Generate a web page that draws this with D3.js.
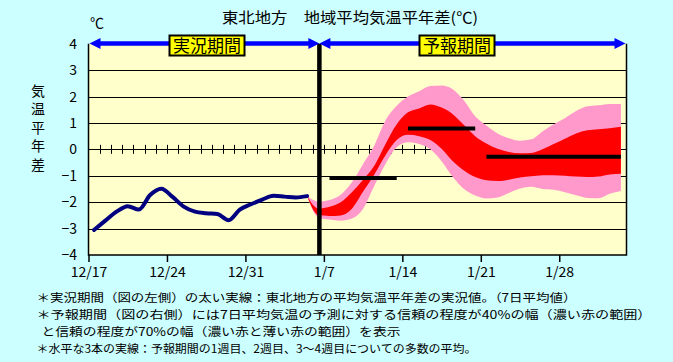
<!DOCTYPE html>
<html><head><meta charset="utf-8">
<script src="https://cdn.jsdelivr.net/npm/d3@7"></script>
<style>
html,body{margin:0;padding:0;background:#CCFFFF;}
svg{display:block;}
text{font-family:"Noto Sans CJK JP","Noto Sans",sans-serif;fill:#000;}
</style></head>
<body><svg id="c" width="673" height="362"></svg>
<script>
// ---- data ----
const title = "東北地方　地域平均気温平年差(℃)";
const unitLabel = "℃";
const yAxisTitle = "気温平年差";
const yTicks = [-4,-3,-2,-1,0,1,2,3,4];
const xTickDays = [0,7,14,21,28,35,42];
const xTickLabels = ["12/17","12/24","12/31","1/7","1/14","1/21","1/28"];
const totalDays = 48;
const periodLabels = ["実況期間","予報期間"];
const forecastBoundary = 20.6;
// observed 7-day mean anomaly, daily from 12/17 (day 0)
const observedStart = 0;
const observed = [-3.05,-2.7,-2.36,-2.15,-2.28,-1.73,-1.49,-1.8,-2.17,-2.36,-2.42,-2.45,-2.68,-2.28,-2.08,-1.9,-1.76,-1.79,-1.82,-1.77];
// forecast bands, daily from day 19
const forecastStart = 19;
const p70Upper = [-1.77,-1.98,-1.92,-1.72,-1.25,-0.55,0.15,1.1,1.65,2.0,2.2,2.4,2.42,2.28,1.85,1.25,0.9,0.6,0.42,0.33,0.38,0.68,0.95,1.18,1.45,1.63,1.67,1.72,1.72];
const r40Upper = [-1.77,-2.24,-2.17,-2.0,-1.62,-1.15,-0.62,0.2,0.95,1.4,1.55,1.7,1.58,1.33,0.92,0.5,0.22,0.02,-0.1,-0.15,-0.14,0.0,0.2,0.4,0.6,0.72,0.76,0.8,0.86];
const r40Lower = [-1.77,-2.49,-2.52,-2.5,-2.25,-1.6,-0.95,-0.22,0.35,0.55,0.5,0.35,0.02,-0.45,-0.8,-1.05,-1.17,-1.2,-1.15,-1.07,-1.02,-0.98,-0.98,-1.0,-1.03,-1.05,-1.03,-0.95,-0.92];
const p70Lower = [-1.77,-2.58,-2.66,-2.7,-2.62,-2.25,-1.38,-0.55,0.08,0.27,0.2,0.0,-0.45,-1.05,-1.5,-1.75,-1.86,-1.82,-1.65,-1.48,-1.42,-1.5,-1.53,-1.62,-1.74,-1.84,-1.85,-1.68,-1.58];
// ensemble mean: week1, week2, weeks3-4
const meanStartDay = [21,28,35];
const meanEndDay = [27,34,47];
const meanValues = [-1.08,0.79,-0.28];
const notes = [
 "＊実況期間（図の左側）の太い実線：東北地方の平均気温平年差の実況値。（7日平均値）",
 "＊予報期間（図の右側）には7日平均気温の予測に対する信頼の程度が40%の幅（濃い赤の範囲）",
 "と信頼の程度が70%の幅（濃い赤と薄い赤の範囲）を表示",
 "＊水平な3本の実線：予報期間の1週目、2週目、3～4週目についての多数の平均。"
];

// ---- layout ----
const svg = d3.select("#c");
const L=88.5, R=626.5, T=43.7, B=255;
const x = d3.scaleLinear().domain([0,totalDays]).range([L,R]);
const y = d3.scaleLinear().domain([-4,4]).range([B,T]);
const cx = d => x(d+0.5);

svg.append("rect").attr("width",673).attr("height",362).attr("fill","#CCFFFF");
svg.append("rect").attr("x",L).attr("y",T).attr("width",R-L).attr("height",B-T).attr("fill","#FFFFCC");

// grid lines
svg.append("g").selectAll("line").data(yTicks.filter(v=>v>-4&&v<4)).join("line")
  .attr("x1",L).attr("x2",R).attr("y1",d=>Math.round(y(d))+0.5).attr("y2",d=>Math.round(y(d))+0.5)
  .attr("stroke","#000").attr("stroke-width",1);
// daily ticks on zero line
svg.append("g").selectAll("line").data(d3.range(1,totalDays)).join("line")
  .attr("x1",d=>Math.round(x(d))+0.5).attr("x2",d=>Math.round(x(d))+0.5)
  .attr("y1",y(0)-4.5).attr("y2",y(0)+4.5).attr("stroke","#000");

// bands
const fc = p70Upper.map((v,i)=>({d:forecastStart+i,p70u:v,r40u:r40Upper[i],r40l:r40Lower[i],p70l:p70Lower[i]}));
const curve = d3.curveMonotoneX;
svg.append("path").datum(fc).attr("fill","#FF99CC")
  .attr("d",d3.area().x(d=>cx(d.d)).y0(d=>y(d.p70l)).y1(d=>y(d.p70u)).curve(curve));
svg.append("path").datum(fc).attr("fill","#FF0000")
  .attr("d",d3.area().x(d=>cx(d.d)).y0(d=>y(d.r40l)).y1(d=>y(d.r40u)).curve(curve));

// observed
const obs = observed.map((v,i)=>({d:observedStart+i,v}));
svg.append("path").datum(obs).attr("fill","none").attr("stroke","#000080").attr("stroke-width",4)
  .attr("stroke-linejoin","round").attr("stroke-linecap","round")
  .attr("d",d3.line().x(d=>cx(d.d)).y(d=>y(d.v)).curve(curve));

// ensemble means
svg.append("g").selectAll("line").data(meanValues).join("line")
  .attr("x1",(d,i)=>cx(meanStartDay[i])).attr("x2",(d,i)=>cx(meanEndDay[i]))
  .attr("y1",d=>y(d)).attr("y2",d=>y(d)).attr("stroke","#000").attr("stroke-width",4);

// divider
svg.append("line").attr("x1",x(forecastBoundary)).attr("x2",x(forecastBoundary))
  .attr("y1",T).attr("y2",B).attr("stroke","#000").attr("stroke-width",4.5);

// frame
svg.append("path").attr("d",`M${L},${T}V${B}H${R}V${T}`).attr("fill","none").attr("stroke","#000").attr("stroke-width",1.5);

// x axis
const xa = svg.append("g").attr("transform",`translate(0,${B})`)
  .call(d3.axisBottom(x).tickValues(xTickDays).tickFormat((d,i)=>xTickLabels[i]).tickSize(7).tickPadding(5));
xa.select(".domain").remove();
xa.selectAll("line").attr("stroke","#000").attr("stroke-width",1.5);
xa.selectAll("text").attr("font-size",14).attr("font-family","'Noto Sans CJK JP',sans-serif").attr("fill","#000");

// y labels
svg.append("g").selectAll("text").data(yTicks).join("text")
  .attr("x",77).attr("y",d=>y(d)).attr("dy","0.36em").attr("text-anchor","end")
  .attr("font-size",14).text(d=>d<0?"−"+Math.abs(d):d);

// y title (vertical)
svg.append("text").attr("x",38).attr("y",129.5).attr("text-anchor","middle")
  .attr("writing-mode","vertical-rl").style("letter-spacing","4.5px")
  .attr("font-size",14).text(yAxisTitle);

svg.append("text").attr("x",97).attr("y",28).attr("text-anchor","middle").attr("font-size",14).text(unitLabel);
svg.append("text").attr("x",222).attr("y",23).attr("font-size",15)
  .attr("textLength",256).attr("lengthAdjust","spacingAndGlyphs").text(title);

// period arrows
const arrowY = 43.5, ah = 11, aw = 5.5;
const segs = [[0,forecastBoundary],[forecastBoundary,totalDays]];
const ag = svg.append("g");
segs.forEach(s=>{
  const a=x(s[0])+ (s[0]===0?1:0), b=x(s[1]) - (s[1]===totalDays?1:0);
  ag.append("line").attr("x1",a+ah-1).attr("x2",b-ah+1).attr("y1",arrowY).attr("y2",arrowY)
    .attr("stroke","#0000FF").attr("stroke-width",4.5);
  ag.append("path").attr("d",`M${a},${arrowY}L${a+ah},${arrowY-aw}L${a+ah},${arrowY+aw}Z`).attr("fill","#0000FF");
  ag.append("path").attr("d",`M${b},${arrowY}L${b-ah},${arrowY-aw}L${b-ah},${arrowY+aw}Z`).attr("fill","#0000FF");
});
const boxCx=[207,457];
periodLabels.forEach((t,i)=>{
  svg.append("rect").attr("x",boxCx[i]-37.5).attr("y",35.5).attr("width",75).attr("height",20)
    .attr("fill","#FFFF00").attr("stroke","#000").attr("stroke-width",2);
  svg.append("text").attr("x",boxCx[i]).attr("y",45.5).attr("dy","0.36em").attr("text-anchor","middle")
    .attr("font-size",17).text(t);
});

// notes
const noteX=[36.5,36.5,41.5,36.5];
const noteY=[302,319,336,353];
const noteW=[540,615,359,440];
svg.append("g").selectAll("text").data(notes).join("text")
  .attr("x",(d,i)=>noteX[i]).attr("y",(d,i)=>noteY[i]).attr("font-size",11.6)
  .attr("textLength",(d,i)=>noteW[i]).attr("lengthAdjust","spacingAndGlyphs").text(d=>d);
</script></body></html>
